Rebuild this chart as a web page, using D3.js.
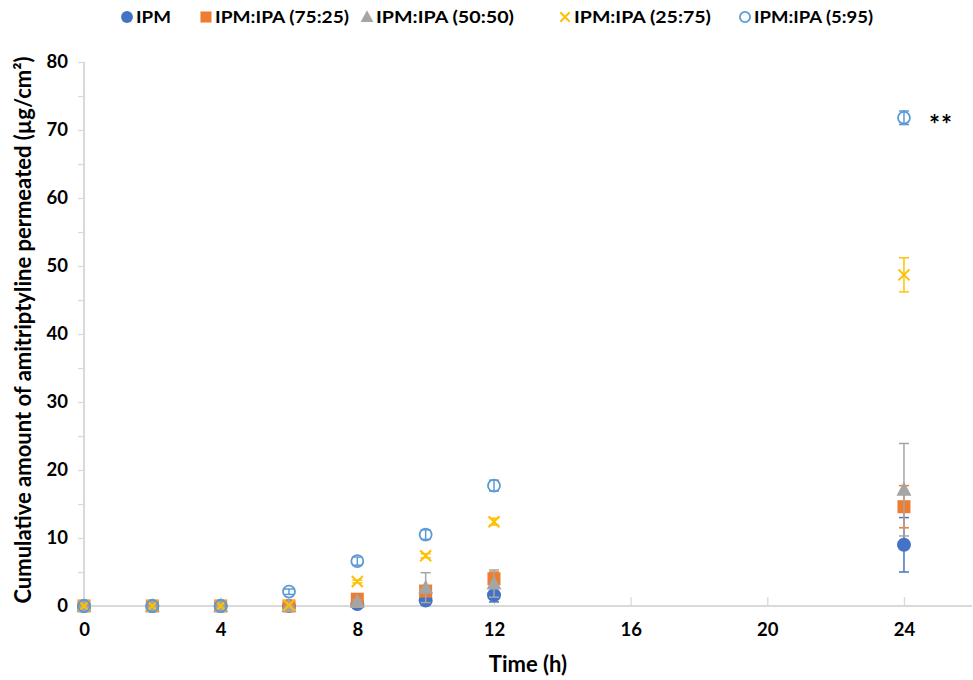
<!DOCTYPE html>
<html><head><meta charset="utf-8">
<script src="https://cdn.jsdelivr.net/npm/d3@7"></script>
<style>body{margin:0;background:#fff}svg{display:block}</style>
</head><body>
<script>
const times = [0, 2, 4, 6, 8, 10, 12, 24];
const seriesNames = ["IPM", "IPM:IPA (75:25)", "IPM:IPA (50:50)", "IPM:IPA (25:75)", "IPM:IPA (5:95)"];
const ipm      = [0, 0, 0, 0, 0.3, 0.8, 1.6, 9.0];
const ipmErr   = [0, 0, 0, 0, 0.2, 0.3, 1.0, 4.0];
const ipa7525  = [0, 0, 0, 0, 1.0, 2.2, 4.0, 14.6];
const err7525  = [0, 0, 0, 0, 0.3, 0.5, 1.0, 3.1];
const ipa5050  = [0, 0, 0, 0, 0.6, 2.7, 3.3, 17.1];
const err5050  = [0, 0, 0, 0, 0.3, 2.2, 2.0, 6.8];
const ipa2575  = [0, 0, 0, 0.1, 3.6, 7.4, 12.4, 48.7];
const err2575  = [0, 0, 0, 0, 0.2, 0.3, 0.5, 2.5];
const ipa595   = [0, 0, 0, 2.1, 6.6, 10.5, 17.7, 71.8];
const err595   = [0, 0, 0, 0.4, 0.6, 0.7, 0.8, 1.0];
const xTicks = [0, 4, 8, 12, 16, 20, 24];
const yTicks = [0, 10, 20, 30, 40, 50, 60, 70, 80];
const yMinorTicks = [5, 15, 25, 35, 45, 55, 65, 75];

const colors = ["#4472C4", "#ED7D31", "#A5A5A5", "#FFC000", "#5B9BD5"];
const shapes = ["circle", "square", "triangle", "cross", "ring"];
const values = [ipm, ipa7525, ipa5050, ipa2575, ipa595];
const errs = [ipmErr, err7525, err5050, err2575, err595];

const W = 973, H = 680;
const svg = d3.select("body").append("svg").attr("width", W).attr("height", H);
const font = "Lato, 'Open Sans', sans-serif";

const x = d3.scaleLinear().domain([0, 26]).range([84, 972.3]);
const y = d3.scaleLinear().domain([0, 80]).range([606, 62]);

// axes
const axisColor = "#D9D9D9";
const gy = svg.append("g").attr("transform", "translate(84,0)")
  .call(d3.axisLeft(y).tickValues(yTicks).tickSize(6).tickPadding(10).tickFormat(d3.format("d")));
svg.append("g").attr("transform", "translate(84,0)")
  .call(d3.axisLeft(y).tickValues(yMinorTicks).tickSize(6).tickFormat(""))
  .call(g => g.select(".domain").remove())
  .selectAll("line").attr("stroke", axisColor).attr("stroke-width", 1.3);
const gx = svg.append("g").attr("transform", "translate(0,606)")
  .call(d3.axisBottom(x).tickValues(xTicks).tickSize(-9).tickPadding(17).tickSizeOuter(0));
[gx, gy].forEach(g => {
  g.select(".domain").attr("stroke", axisColor).attr("stroke-width", 2);
  g.selectAll(".tick line").attr("stroke", axisColor).attr("stroke-width", 1.3);
  g.selectAll("text").attr("font-family", font).attr("font-weight", "bold")
    .attr("font-size", 18.5).attr("fill", "#000");
});
gy.select(".domain").attr("d", "M0,62V606");
gx.select(".domain").attr("d", "M84,0H972");

// axis titles
svg.append("text").attr("x", 528).attr("y", 672).attr("text-anchor", "middle")
  .attr("font-family", font).attr("font-weight", "bold").attr("font-size", 22).text("Time (h)");
svg.append("text").attr("transform", "translate(31,330) rotate(-90)").attr("text-anchor", "middle")
  .attr("font-family", font).attr("font-weight", "bold").attr("font-size", 22)
  .text("Cumulative amount of amitriptyline permeated (µg/cm²)");

function drawMarker(g, shape, color, cx, cy, s) {
  s = s || 1;
  if (shape === "circle") g.append("circle").attr("cx", cx).attr("cy", cy).attr("r", 7 * s).attr("fill", color);
  else if (shape === "square") g.append("rect").attr("x", cx - 6.5 * s).attr("y", cy - 6.5 * s)
    .attr("width", 13 * s).attr("height", 13 * s).attr("fill", color);
  else if (shape === "triangle") g.append("path")
    .attr("d", `M${cx},${cy - 8 * s}L${cx + 7.5 * s},${cy + 6 * s}L${cx - 7.5 * s},${cy + 6 * s}Z`).attr("fill", color);
  else if (shape === "cross") g.append("path")
    .attr("d", `M${cx - 5.5 * s},${cy - 5.5 * s}L${cx + 5.5 * s},${cy + 5.5 * s}M${cx + 5.5 * s},${cy - 5.5 * s}L${cx - 5.5 * s},${cy + 5.5 * s}`)
    .attr("stroke", color).attr("stroke-width", 2).attr("fill", "none");
  else if (shape === "ring") g.append("circle").attr("cx", cx).attr("cy", cy).attr("r", 6 * s)
    .attr("fill", "none").attr("stroke", color).attr("stroke-width", 1.8);
}

const plot = svg.append("g");
values.forEach((vals, si) => {
  const g = plot.append("g");
  vals.forEach((v, i) => {
    const e = errs[si][i];
    if (e > 0) {
      const cx = x(times[i]);
      const col = colors[si];
      g.append("line").attr("x1", cx).attr("x2", cx).attr("y1", y(v - e)).attr("y2", y(v + e))
        .attr("stroke", col).attr("stroke-width", 1.5);
      [v - e, v + e].forEach(b => g.append("line").attr("x1", cx - 5).attr("x2", cx + 5)
        .attr("y1", y(b)).attr("y2", y(b)).attr("stroke", col).attr("stroke-width", 1.5));
    }
    drawMarker(g, shapes[si], colors[si], x(times[i]), y(v));
  });
});

// significance mark
svg.append("text").attr("x", 929).attr("y", 134).attr("font-family", font).attr("font-weight", "bold")
  .attr("font-size", 26).attr("letter-spacing", 1).attr("fill", "#000").text("**");

// legend
const legendX = [127, 206, 367, 565, 745];
const legendW = [35, 134, 138, 137, 119];
const lg = svg.append("g");
seriesNames.forEach((n, i) => {
  drawMarker(lg, shapes[i], colors[i], legendX[i], 17, 0.85);
  lg.append("text").attr("x", legendX[i] + 9).attr("y", 23).attr("font-family", font)
    .attr("font-weight", "bold").attr("font-size", 17.5)
    .attr("textLength", legendW[i]).attr("lengthAdjust", "spacingAndGlyphs").text(n);
});
</script>
</body></html>
